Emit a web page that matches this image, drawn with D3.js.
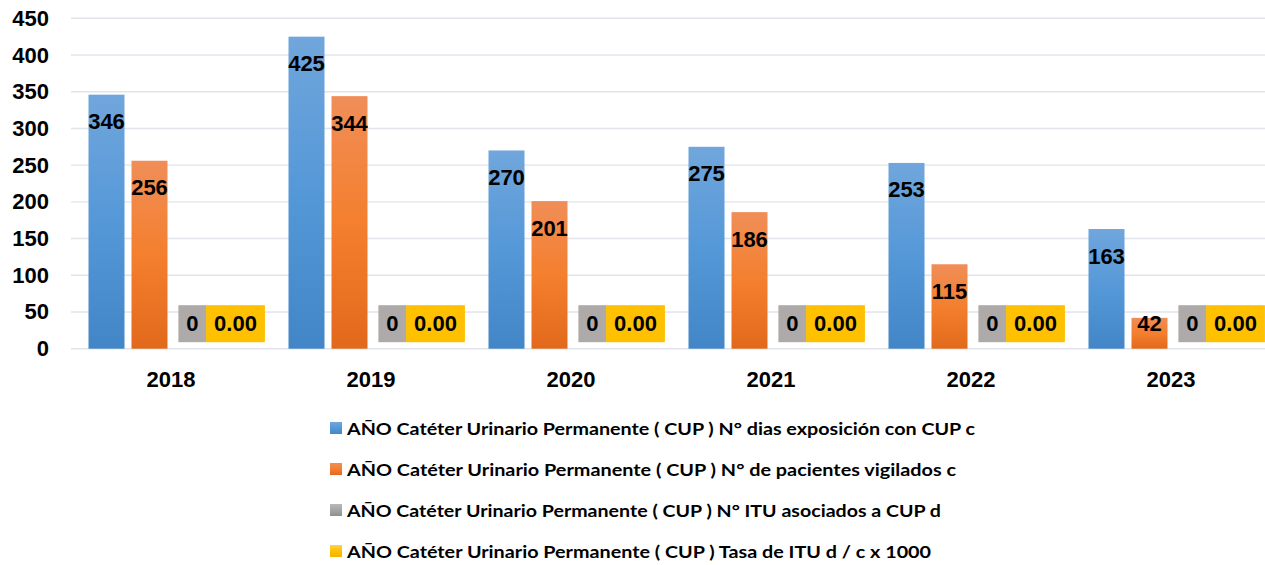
<!DOCTYPE html>
<html>
<head>
<meta charset="utf-8">
<script src="https://cdn.jsdelivr.net/npm/d3@7"></script>
<style>
  body { margin: 0; background: #fff; }
  svg { display: block; }
  .tick-y, .tick-x, .dato { font-family: "Liberation Sans", Arial, sans-serif; font-weight: bold; fill: #000; }
  .leyenda { font-family: Lato, "Open Sans", sans-serif; font-weight: bold; fill: #000; }
</style>
</head>
<body>
<svg id="grafico" width="1265" height="565"></svg>
<script>
const anios = ["2018", "2019", "2020", "2021", "2022", "2023"];
const diasExposicion = [346, 425, 270, 275, 253, 163];
const pacientesVigilados = [256, 344, 201, 186, 115, 42];
const ituAsociados = [0, 0, 0, 0, 0, 0];
const tasaItu = [0, 0, 0, 0, 0, 0];
const nombresSeries = [
  "AÑO Catéter Urinario Permanente ( CUP ) N° dias exposición con CUP c",
  "AÑO Catéter Urinario Permanente ( CUP ) N° de pacientes vigilados c",
  "AÑO Catéter Urinario Permanente ( CUP ) N° ITU asociados a CUP d",
  "AÑO Catéter Urinario Permanente ( CUP ) Tasa de ITU d / c x 1000"
];

const series = [
  { key: "dias", valores: diasExposicion, grad: "gAzul", fmt: (v) => String(v) },
  { key: "pac", valores: pacientesVigilados, grad: "gNaranja", fmt: (v) => String(v) },
  { key: "itu", valores: ituAsociados, grad: "gGris", fmt: (v) => String(v), caja: "#aeaaaa" },
  { key: "tasa", valores: tasaItu, grad: "gAmarillo", fmt: (v) => v.toFixed(2), caja: "#ffc000" }
];

const svg = d3.select("#grafico");

// gradientes tipo Excel
const defs = svg.append("defs");
function gradiente(id, arriba, medio, abajo) {
  const g = defs.append("linearGradient").attr("id", id)
    .attr("x1", 0).attr("y1", 0).attr("x2", 0).attr("y2", 1);
  g.append("stop").attr("offset", "0%").attr("stop-color", arriba);
  g.append("stop").attr("offset", "50%").attr("stop-color", medio);
  g.append("stop").attr("offset", "100%").attr("stop-color", abajo);
}
gradiente("gAzul", "#70a6dc", "#5598d8", "#4386c7");
gradiente("gNaranja", "#f08e58", "#f47f2e", "#e2691c");
gradiente("gGris", "#b8b8b8", "#a5a5a5", "#8e8e8e");
gradiente("gAmarillo", "#ffd24d", "#ffc000", "#f0b400");

const margen = { izq: 71, der: 1271, arriba: 18.3, abajo: 348.7 };

const y = d3.scaleLinear().domain([0, 450]).range([margen.abajo, margen.arriba]);
const x = d3.scaleBand().domain(anios).range([margen.izq, margen.der]);
const xs = d3.scaleBand().domain(series.map((s) => s.key))
  .range([0, x.bandwidth()])
  .paddingInner(7 / 43)
  .paddingOuter(0.407);

// lineas de grilla
svg.append("g")
  .selectAll("line")
  .data(y.ticks(9))
  .join("line")
  .attr("x1", margen.izq)
  .attr("x2", margen.der)
  .attr("y1", (d) => y(d))
  .attr("y2", (d) => y(d))
  .attr("stroke", "#e1e4ea")
  .attr("stroke-width", 1.4);

// etiquetas eje y
svg.append("g")
  .selectAll("text")
  .data(y.ticks(9))
  .join("text")
  .attr("class", "tick-y")
  .attr("x", 49)
  .attr("y", (d) => y(d))
  .attr("text-anchor", "end")
  .attr("dominant-baseline", "central")
  .attr("font-size", 22)
  .text((d) => d);

// etiquetas eje x
svg.append("g")
  .selectAll("text")
  .data(anios)
  .join("text")
  .attr("class", "tick-x")
  .attr("x", (d) => x(d) + x.bandwidth() / 2)
  .attr("y", 379)
  .attr("text-anchor", "middle")
  .attr("dominant-baseline", "central")
  .attr("font-size", 22)
  .text((d) => d);

// barras
const grupos = svg.append("g")
  .selectAll("g")
  .data(anios)
  .join("g")
  .attr("transform", (d) => `translate(${x(d)},0)`);

const celdas = (anio, i) => series.map((s) => ({ s: s, v: s.valores[i] }));

grupos.selectAll("rect.barra")
  .data(celdas)
  .join("rect")
  .attr("class", "barra")
  .attr("x", (d) => xs(d.s.key))
  .attr("width", xs.bandwidth())
  .attr("y", (d) => y(d.v))
  .attr("height", (d) => y(0) - y(d.v))
  .attr("fill", (d) => `url(#${d.s.grad})`);

// etiquetas de datos
const etiquetas = grupos.selectAll("g.etiqueta")
  .data(celdas)
  .join("g")
  .attr("class", "etiqueta")
  .attr("transform", (d) => {
    const cx = xs(d.s.key) + xs.bandwidth() / 2;
    const cy = Math.min(y(d.v) + 27, y(0) - 25);
    return `translate(${cx},${cy})`;
  });

etiquetas.append("rect").attr("class", "caja");
etiquetas.append("text")
  .attr("class", "dato")
  .attr("text-anchor", "middle")
  .attr("dominant-baseline", "central")
  .attr("font-size", 22)
  .text((d) => d.s.fmt(d.v));

etiquetas.each(function (d) {
  if (!d.s.caja) return;
  const g = d3.select(this);
  const ancho = g.select("text").node().getComputedTextLength() + 16;
  g.select("rect")
    .attr("x", -ancho / 2)
    .attr("y", -18.5)
    .attr("width", ancho)
    .attr("height", 37)
    .attr("fill", d.s.caja);
});
etiquetas.filter((d) => !d.s.caja).select("rect").remove();

// leyenda
const anchosLeyenda = [628, 609, 594, 584];
const leyenda = svg.append("g")
  .selectAll("g")
  .data(nombresSeries)
  .join("g")
  .attr("transform", (d, i) => `translate(330,${428 + i * 41})`);

leyenda.append("rect")
  .attr("x", 0)
  .attr("y", -6)
  .attr("width", 12)
  .attr("height", 12)
  .attr("fill", (d, i) => `url(#${series[i].grad})`);

leyenda.append("text")
  .attr("class", "leyenda")
  .attr("x", 17)
  .attr("y", 0)
  .attr("dominant-baseline", "central")
  .attr("font-size", 17)
  .attr("textLength", (d, i) => anchosLeyenda[i])
  .attr("lengthAdjust", "spacingAndGlyphs")
  .text((d) => d);
</script>
</body>
</html>
